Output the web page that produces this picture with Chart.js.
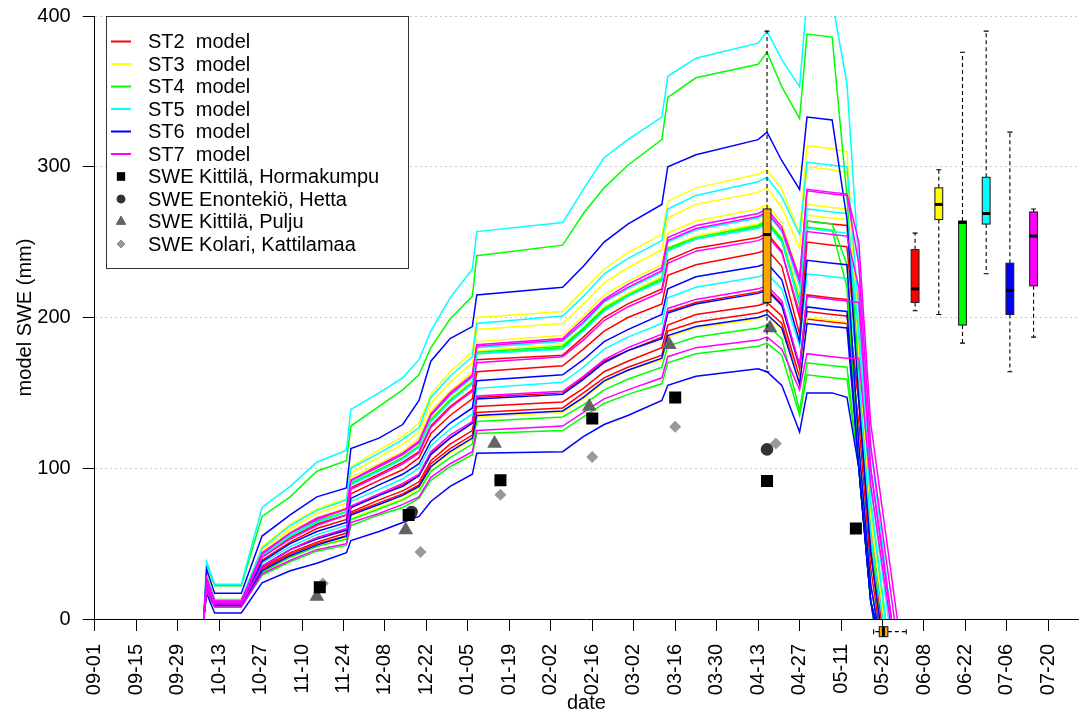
<!DOCTYPE html>
<html>
<head>
<meta charset="utf-8">
<script src="https://cdn.jsdelivr.net/npm/chart.js@4.4.1/dist/chart.umd.min.js"></script>
<style>
  html, body { margin: 0; padding: 0; background: #fff; }
  canvas { display: block; }
</style>
</head>
<body>
<canvas id="swe" width="1082" height="718"></canvas>
<script>
// days counted from 09-01
const tickDays = [0, 14, 28, 42, 56, 70, 84, 98, 112, 126, 140, 154, 168, 182, 196, 210, 224, 238, 252, 266, 280, 294, 308, 322];
const tickLabels = ['09-01', '09-15', '09-29', '10-13', '10-27', '11-10', '11-24', '12-08', '12-22', '01-05', '01-19', '02-02',
  '02-16', '03-02', '03-16', '03-30', '04-13', '04-27', '05-11', '05-25', '06-08', '06-22', '07-06', '07-20'];

const stations = ['ST2', 'ST3', 'ST4', 'ST5', 'ST6', 'ST7'];
const stationColors = ['#ff0000', '#ffff00', '#00ff00', '#00ffff', '#0000ff', '#ff00ff'];

// model runs share these days; the last point of each run is its melt-out day
const runDays = [36.8, 37.8, 40.5, 49.5, 56.5, 66, 75, 85, 86.5, 96, 104, 109.5, 113.5, 120, 127.5, 129,
  158, 165, 172, 180, 191.5, 193.5, 203, 224, 227, 232, 238, 240.5, 249, 254, 258, 262];

const st2Runs = [
  [0, 26, 12, 12, 41, 54, 63, 69, 87, 96, 104, 111, 128, 141, 152, 172, 175, 187, 200, 209, 219, 238, 246, 253, 256, 244, 200, 264, 262, 261, 175, 67],
  [0, 25, 11, 11, 39, 51, 60, 66, 83, 92, 99, 107, 123, 135, 146, 164, 168, 179, 191, 200, 209, 228, 235, 243, 245, 234, 189, 250, 248, 247, 160, 56],
  [0, 22, 10, 10, 35, 46, 54, 59, 74, 82, 89, 95, 110, 120, 130, 147, 150, 160, 171, 178, 187, 204, 210, 217, 219, 209, 166, 215, 213, 212, 145, 45],
  [0, 21, 9, 9, 34, 44, 51, 57, 71, 79, 85, 91, 105, 116, 125, 141, 144, 153, 164, 171, 180, 195, 202, 208, 210, 201, 160, 204, 202, 201, 145, 45],
  [0, 21, 9, 9, 33, 43, 50, 55, 70, 77, 83, 89, 103, 113, 122, 137, 140, 150, 160, 167, 175, 191, 197, 203, 205, 196, 156, 199, 197, 196, 130, 34]
];
const st3Runs = [
  [0, 30, 13, 13, 48, 63, 73, 80, 101, 112, 121, 130, 149, 164, 177, 200, 204, 218, 232, 243, 255, 277, 286, 295, 298, 285, 256, 314, 312, 310, 190, 78],
  [0, 29, 13, 13, 46, 60, 70, 77, 97, 107, 116, 124, 143, 157, 170, 192, 196, 209, 223, 233, 245, 266, 275, 283, 286, 273, 246, 300, 298, 296, 190, 78],
  [0, 28, 12, 12, 44, 58, 67, 74, 94, 103, 111, 120, 138, 151, 164, 184, 188, 201, 215, 224, 235, 256, 264, 272, 275, 263, 226, 275, 273, 272, 175, 67],
  [0, 26, 12, 12, 42, 56, 65, 72, 90, 99, 107, 115, 133, 146, 158, 178, 182, 193, 207, 216, 227, 246, 254, 262, 265, 253, 215, 268, 266, 265, 190, 78],
  [0, 19, 8, 8, 31, 41, 48, 54, 67, 74, 80, 87, 100, 110, 119, 134, 137, 146, 157, 165, 172, 187, 193, 199, 202, 192, 158, 200, 198, 197, 175, 67]
];
const st4Runs = [
  [0, 37, 22, 22, 68, 81, 98, 105, 128, 141, 152, 162, 180, 199, 214, 241, 248, 269, 286, 301, 318, 346, 359, 368, 376, 353, 332, 388, 386, 280, 160, 56],
  [0, 26, 12, 12, 42, 55, 65, 71, 90, 99, 107, 115, 132, 145, 157, 177, 181, 193, 206, 215, 226, 246, 253, 261, 264, 252, 211, 264, 262, 235, 115, 23],
  [0, 26, 12, 12, 42, 55, 64, 71, 89, 99, 107, 114, 132, 145, 156, 176, 180, 192, 205, 214, 225, 245, 252, 260, 263, 251, 208, 260, 258, 220, 100, 12],
  [0, 20, 8, 8, 31, 41, 48, 53, 66, 73, 79, 85, 98, 107, 116, 131, 134, 142, 152, 159, 167, 181, 187, 193, 195, 186, 138, 170, 168, 167, 100, 12],
  [0, 18, 8, 8, 29, 38, 45, 49, 62, 69, 74, 80, 92, 101, 109, 123, 125, 134, 143, 149, 156, 170, 176, 181, 183, 175, 135, 162, 160, 159, 100, 12]
];
const st5Runs = [
  [0, 38, 23, 23, 74, 88, 104, 112, 139, 150, 160, 172, 191, 213, 232, 257, 263, 285, 306, 318, 333, 360, 372, 382, 390, 371, 353, 412, 410, 355, 235, 115],
  [0, 29, 13, 13, 47, 62, 72, 79, 100, 110, 119, 127, 147, 161, 174, 196, 201, 214, 229, 239, 251, 272, 281, 290, 293, 280, 255, 303, 301, 300, 205, 89],
  [0, 27, 12, 12, 43, 56, 66, 73, 91, 101, 109, 117, 135, 148, 160, 180, 184, 196, 210, 219, 230, 250, 258, 266, 269, 257, 221, 272, 270, 269, 190, 78],
  [0, 26, 12, 12, 42, 55, 64, 71, 89, 98, 106, 114, 131, 144, 156, 176, 179, 191, 204, 214, 224, 244, 252, 259, 262, 250, 210, 259, 257, 256, 190, 78],
  [0, 23, 10, 10, 37, 48, 56, 62, 78, 86, 93, 100, 115, 126, 136, 153, 157, 167, 179, 187, 196, 213, 220, 227, 229, 219, 181, 229, 227, 226, 160, 56]
];
const st6Runs = [
  [0, 33, 17, 17, 55, 69, 81, 87, 113, 120, 129, 145, 171, 186, 194, 215, 220, 234, 250, 262, 275, 300, 308, 318, 323, 304, 285, 333, 331, 265, 145, 45],
  [0, 24, 10, 10, 38, 50, 58, 64, 80, 89, 96, 103, 118, 130, 140, 158, 162, 172, 184, 192, 202, 219, 227, 234, 236, 225, 184, 238, 236, 235, 115, 23],
  [0, 22, 10, 10, 35, 46, 53, 59, 74, 82, 88, 95, 109, 120, 130, 146, 149, 159, 170, 178, 186, 203, 209, 216, 218, 208, 168, 207, 205, 204, 100, 12],
  [0, 20, 9, 9, 32, 42, 49, 55, 69, 76, 82, 88, 101, 111, 120, 135, 138, 147, 158, 165, 173, 188, 194, 200, 202, 193, 156, 196, 194, 193, 100, 12],
  [0, 17, 4, 4, 24, 32, 37, 44, 52, 58, 64, 68, 78, 88, 96, 110, 111, 121, 129, 135, 145, 155, 161, 166, 164, 155, 124, 150, 150, 147, 100, 12]
];
const st7Runs = [
  [0, 27, 12, 12, 44, 57, 67, 73, 92, 102, 110, 118, 136, 150, 162, 182, 186, 199, 212, 222, 233, 253, 261, 269, 272, 260, 226, 284, 282, 281, 235, 115],
  [0, 27, 12, 12, 43, 57, 66, 73, 92, 101, 109, 117, 135, 149, 161, 181, 185, 197, 211, 220, 231, 251, 259, 267, 270, 258, 224, 285, 283, 282, 250, 130],
  [0, 25, 11, 11, 41, 53, 62, 69, 86, 95, 103, 110, 127, 140, 151, 170, 174, 185, 198, 207, 217, 236, 244, 251, 254, 243, 203, 257, 255, 254, 220, 100],
  [0, 22, 10, 10, 35, 46, 54, 60, 75, 83, 90, 96, 111, 122, 131, 148, 151, 161, 172, 180, 189, 206, 212, 219, 221, 211, 168, 214, 212, 211, 210, 100],
  [0, 19, 8, 8, 30, 39, 46, 50, 64, 70, 76, 81, 94, 103, 111, 125, 128, 137, 146, 152, 160, 174, 180, 185, 187, 179, 152, 176, 174, 173, 173, 89]
];

const st2Melt = [266, 265.5, 265, 265, 264.5];
const st3Melt = [267, 267, 266.5, 267, 266.5];
const st4Melt = [265, 264, 263, 263, 263];
const st5Melt = [269, 268, 267, 267, 266];
const st6Melt = [265, 264, 263.5, 263.5, 263];
const st7Melt = [270, 271, 269, 269, 268.5];

// snow course observations
const hormaDays = [76, 106, 137, 168, 196, 227, 257];
const hormaSwe = [21, 69, 92, 133, 147, 91.5, 60];
const hettaDays = [107, 227];
const hettaSwe = [71, 112.5];
const puljuDays = [75, 105, 135, 167, 194, 228];
const puljuSwe = [15, 59, 116.5, 141, 182, 193];
const kattilaDays = [77, 110, 137, 168, 196, 230];
const kattilaSwe = [23.5, 44.5, 82.5, 107.5, 127.5, 116.5];

// SWE of each station's runs on 04-15: low whisker, Q1, median, Q3, high whisker
const stationBoxDays = [277, 285, 293, 301, 309, 317];
const stationBoxLow = [204.5, 202, 183, 229, 164, 187];
const stationBoxQ1 = [210, 265, 195, 262, 202, 221];
const stationBoxMed = [219, 275, 263, 269, 218, 254];
const stationBoxQ3 = [245, 286, 264, 293, 236, 270];
const stationBoxHigh = [256, 298, 376, 390, 323, 272];

// all runs on 04-15
const allRunsBoxDay = 227;
const allRunsBox = [164, 210, 255, 272, 390];

// melt-out day of all runs (drawn under the axis)
const meltBoxLevel = -8.4;
const meltBox = [263, 264.9, 266.3, 267.8, 274];

const legendLabels = ['ST2  model', 'ST3  model', 'ST4  model', 'ST5  model', 'ST6  model', 'ST7  model',
  'SWE Kittilä, Hormakumpu', 'SWE Enontekiö, Hetta', 'SWE Kittilä, Pulju', 'SWE Kolari, Kattilamaa'];

const FONT = '"Liberation Sans", Arial, sans-serif';
Chart.defaults.font.family = FONT;
Chart.defaults.color = '#000';

const runsByStation = [st2Runs, st3Runs, st4Runs, st5Runs, st6Runs, st7Runs];
const meltByStation = [st2Melt, st3Melt, st4Melt, st5Melt, st6Melt, st7Melt];

const datasets = [];
let drawOrder = 1000;
runsByStation.forEach((runs, s) => {
  runs.forEach((swe, r) => {
    const pts = runDays.map((d, i) => ({ x: d, y: swe[i] }));
    pts.push({ x: meltByStation[s][r], y: 0 });
    datasets.push({
      type: 'line',
      data: pts,
      borderColor: stationColors[s],
      borderWidth: 1.5,
      pointRadius: 0,
      tension: 0,
      fill: false,
      order: drawOrder--
    });
  });
});

const obs = [
  { days: hormaDays, swe: hormaSwe, style: 'rect', radius: 8.5, color: '#000000' },
  { days: hettaDays, swe: hettaSwe, style: 'circle', radius: 6.3, color: '#333333' },
  { days: puljuDays, swe: puljuSwe, style: 'triangle', radius: 8.5, color: '#636363' },
  { days: kattilaDays, swe: kattilaSwe, style: 'rectRot', radius: 6, color: '#999999' }
];
obs.forEach(o => {
  datasets.push({
    type: 'scatter',
    data: o.days.map((d, i) => ({ x: d, y: o.swe[i] })),
    pointStyle: o.style,
    pointRadius: o.radius,
    pointBackgroundColor: o.color,
    pointBorderColor: o.color,
    pointBorderWidth: 0,
    order: 0
  });
});

function vBox(ctx, x, y, day, vals, fill) {
  const [lo, q1, med, q3, hi] = vals.map(v => y.getPixelForValue(v));
  const cx = x.getPixelForValue(day);
  const hw = 3.9;
  ctx.strokeStyle = '#000';
  ctx.lineWidth = 1.1;
  ctx.setLineDash([4, 3]);
  ctx.beginPath();
  ctx.moveTo(cx, q3); ctx.lineTo(cx, hi);
  ctx.moveTo(cx, q1); ctx.lineTo(cx, lo);
  ctx.stroke();
  ctx.setLineDash([]);
  ctx.beginPath();
  ctx.moveTo(cx - 2.5, hi); ctx.lineTo(cx + 2.5, hi);
  ctx.moveTo(cx - 2.5, lo); ctx.lineTo(cx + 2.5, lo);
  ctx.stroke();
  ctx.fillStyle = fill;
  ctx.fillRect(cx - hw, q3, 2 * hw, q1 - q3);
  ctx.strokeStyle = '#222';
  ctx.strokeRect(cx - hw, q3, 2 * hw, q1 - q3);
  ctx.strokeStyle = '#000';
  ctx.lineWidth = 3;
  ctx.beginPath();
  ctx.moveTo(cx - hw, med); ctx.lineTo(cx + hw, med);
  ctx.stroke();
}

function hBox(ctx, x, y, level, vals, fill) {
  const [lo, q1, med, q3, hi] = vals.map(v => x.getPixelForValue(v));
  const cy = y.getPixelForValue(level);
  const hh = 5;
  ctx.strokeStyle = '#000';
  ctx.lineWidth = 1.1;
  ctx.setLineDash([4, 3]);
  ctx.beginPath();
  ctx.moveTo(q3, cy); ctx.lineTo(hi, cy);
  ctx.moveTo(q1, cy); ctx.lineTo(lo, cy);
  ctx.stroke();
  ctx.setLineDash([]);
  ctx.beginPath();
  ctx.moveTo(hi, cy - 2.5); ctx.lineTo(hi, cy + 2.5);
  ctx.moveTo(lo, cy - 2.5); ctx.lineTo(lo, cy + 2.5);
  ctx.stroke();
  ctx.fillStyle = fill;
  ctx.fillRect(q1, cy - hh, q3 - q1, 2 * hh);
  ctx.strokeStyle = '#222';
  ctx.strokeRect(q1, cy - hh, q3 - q1, 2 * hh);
  ctx.strokeStyle = '#000';
  ctx.lineWidth = 3;
  ctx.beginPath();
  ctx.moveTo(med, cy - hh); ctx.lineTo(med, cy + hh);
  ctx.stroke();
}

const boxPlugin = {
  id: 'boxes',
  afterDatasetsDraw(chart) {
    const { ctx, scales: { x, y } } = chart;
    ctx.save();
    vBox(ctx, x, y, allRunsBoxDay, allRunsBox, '#ffa500');
    stationBoxDays.forEach((d, i) => {
      vBox(ctx, x, y, d, [stationBoxLow[i], stationBoxQ1[i], stationBoxMed[i], stationBoxQ3[i], stationBoxHigh[i]], stationColors[i]);
    });
    hBox(ctx, x, y, meltBoxLevel, meltBox, '#ffa500');
    ctx.restore();
  }
};

const legendPlugin = {
  id: 'swelegend',
  afterDraw(chart) {
    const ctx = chart.ctx;
    ctx.save();
    ctx.fillStyle = '#fff';
    ctx.fillRect(106, 16, 302, 252);
    ctx.strokeStyle = '#333';
    ctx.lineWidth = 1;
    ctx.strokeRect(106.5, 16.5, 302, 252);
    ctx.font = '20px ' + FONT;
    ctx.textBaseline = 'middle';
    legendLabels.forEach((label, i) => {
      const yy = 41.5 + i * 22.5;
      if (i < 6) {
        ctx.strokeStyle = stationColors[i];
        ctx.lineWidth = 2;
        ctx.beginPath();
        ctx.moveTo(111, yy); ctx.lineTo(131, yy);
        ctx.stroke();
      } else {
        const o = obs[i - 6];
        Chart.helpers.drawPoint(ctx, {
          pointStyle: o.style, radius: o.radius * 0.68, rotation: 0, borderWidth: 0
        }, 121, yy);
        ctx.fillStyle = o.color;
        ctx.fill();
      }
      ctx.fillStyle = '#000';
      ctx.fillText(label, 148, yy + 1);
    });
    ctx.restore();
  }
};

new Chart(document.getElementById('swe'), {
  type: 'line',
  data: { datasets },
  options: {
    responsive: false,
    animation: false,
    devicePixelRatio: 1,
    layout: { autoPadding: false, padding: { left: 0, right: 4, top: 16, bottom: 0 } },
    plugins: { legend: { display: false }, tooltip: { enabled: false } },
    scales: {
      x: {
        type: 'linear',
        min: 0,
        max: 332,
        afterBuildTicks: scale => { scale.ticks = tickDays.map(v => ({ value: v })); },
        afterFit: scale => {
          scale.height = 99;
          scale.paddingLeft = 0;
          scale.paddingRight = 0;
        },
        ticks: {
          autoSkip: false,
          minRotation: 90,
          maxRotation: 90,
          padding: 13,
          font: { size: 20 },
          callback: (value, index) => tickLabels[index]
        },
        grid: { drawOnChartArea: false, tickLength: 12, tickColor: '#000', tickWidth: 1 },
        border: { color: '#000', width: 1 },
        title: { display: true, text: 'date', font: { size: 20 }, padding: { top: 0, bottom: 3 } }
      },
      y: {
        min: 0,
        max: 400,
        afterFit: scale => {
          scale.width = 94.7;
          scale.paddingTop = 0;
          scale.paddingBottom = 0;
        },
        ticks: { stepSize: 100, padding: 12, font: { size: 20 } },
        grid: {
          color: c => (c.tick && c.tick.value === 0 ? 'rgba(0,0,0,0)' : '#c8c8c8'),
          tickColor: '#000',
          tickLength: 12,
          tickWidth: 1,
          lineWidth: 1
        },
        border: { color: '#000', width: 1, dash: [2, 3] },
        title: { display: true, text: 'model SWE (mm)', font: { size: 20 }, padding: { top: 13, bottom: 0 } }
      }
    }
  },
  plugins: [boxPlugin, legendPlugin]
});
</script>
</body>
</html>
